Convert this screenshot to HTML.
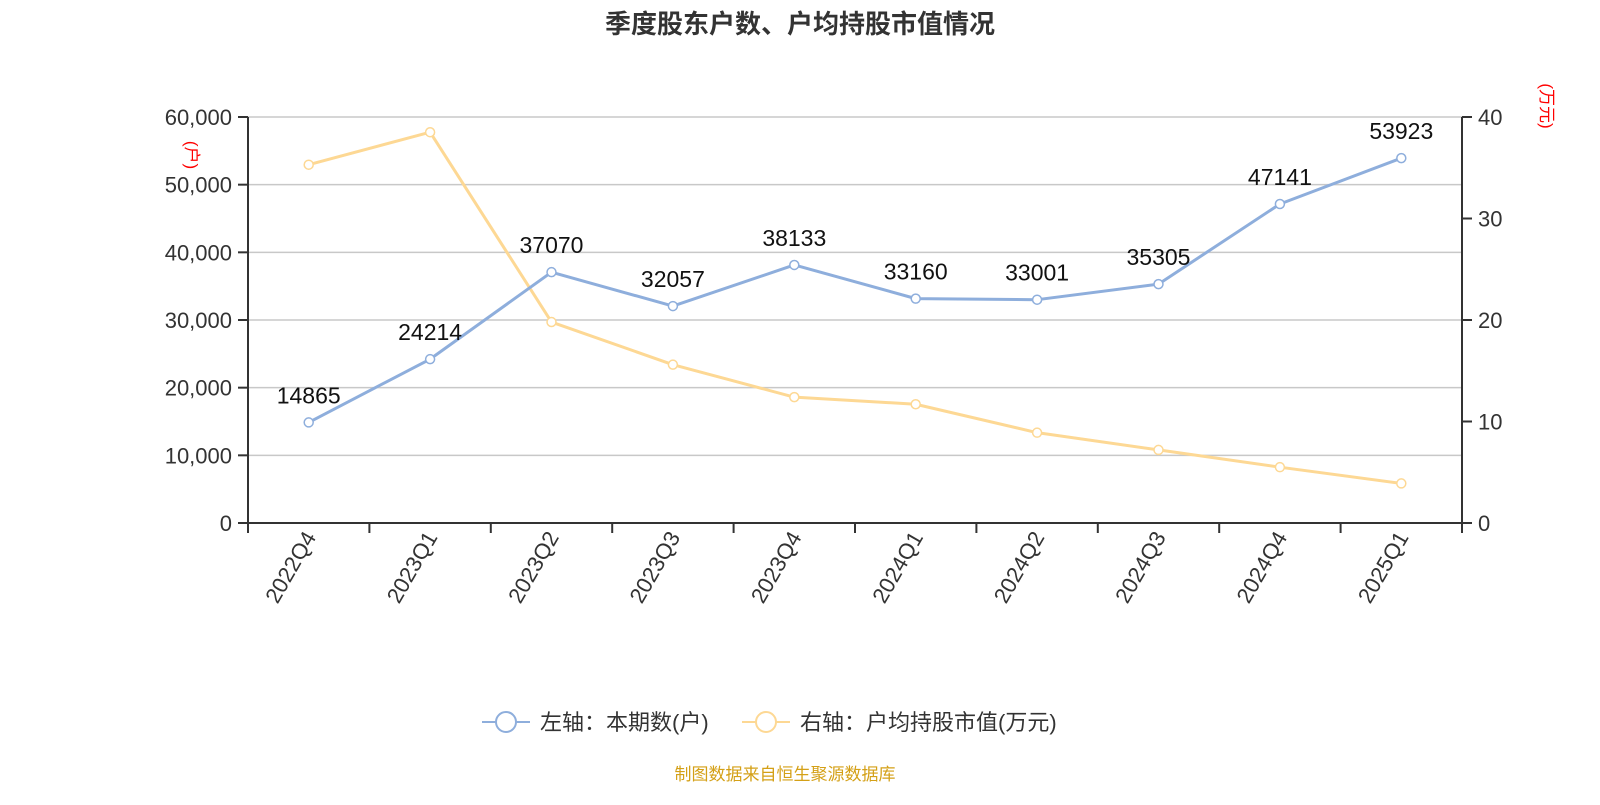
<!DOCTYPE html>
<html><head><meta charset="utf-8"><style>
body{margin:0;background:#fff;width:1600px;height:800px;overflow:hidden;font-family:"Liberation Sans","Noto Sans CJK SC",sans-serif}
</style></head><body>
<svg id="chart" width="1600" height="800" xmlns="http://www.w3.org/2000/svg" font-family="Liberation Sans, Noto Sans CJK SC, sans-serif">
<text x="800" y="33" text-anchor="middle" font-size="26" font-weight="bold" fill="#333">季度股东户数、户均持股市值情况</text>
<text transform="translate(186,155) rotate(90)" text-anchor="middle" font-size="17" fill="#ff0000">(户)</text>
<text transform="translate(1541,106) rotate(90)" text-anchor="middle" font-size="17" fill="#ff0000">(万元)</text>
<g id="grid"></g><g id="axes"></g><g id="series"></g>
<g>
<g>
<line x1="482" y1="722" x2="530" y2="722" stroke="#8eaedc" stroke-width="2"/>
<circle cx="506" cy="722" r="10" fill="#fff" stroke="#8eaedc" stroke-width="2"/>
<text x="540" y="730" font-size="22" fill="#333">左轴：本期数(户)</text>
</g>
<g>
<line x1="742" y1="722" x2="790" y2="722" stroke="#fdd894" stroke-width="2"/>
<circle cx="766" cy="722" r="10" fill="#fff" stroke="#fdd894" stroke-width="2"/>
<text x="800" y="730" font-size="22" fill="#333">右轴：户均持股市值(万元)</text>
</g>
</g>
<text x="785" y="780" text-anchor="middle" font-size="17" fill="#d4a017">制图数据来自恒生聚源数据库</text>
</svg>
<script>
const categories=["2022Q4","2023Q1","2023Q2","2023Q3","2023Q4","2024Q1","2024Q2","2024Q3","2024Q4","2025Q1"];
const holders=[14865,24214,37070,32057,38133,33160,33001,35305,47141,53923];
const avgValue=[35.3,38.5,19.8,15.6,12.4,11.7,8.9,7.2,5.5,3.9];
const leftTicks=[0,10000,20000,30000,40000,50000,60000];
const rightTicks=[0,10,20,30,40];
const NS="http://www.w3.org/2000/svg";
const L=248,R=1462,T=117,B=523;
const bw=(R-L)/categories.length;
const x=i=>L+bw*(i+0.5);
const yL=v=>B-(v/60000)*(B-T);
const yR=v=>B-(v/40)*(B-T);
function mk(tag,attrs,parent,text){const e=document.createElementNS(NS,tag);for(const k in attrs)e.setAttribute(k,attrs[k]);if(text!==undefined)e.textContent=text;parent.appendChild(e);return e;}
const grid=document.getElementById('grid'),axes=document.getElementById('axes'),series=document.getElementById('series');
leftTicks.forEach(v=>{
  if(v>0){const g=mk('line',{x1:L,x2:R,y1:yL(v),y2:yL(v),stroke:'#c8c8c8','stroke-width':1.5},grid);
  
  }
  const tk=mk('line',{x1:L-10,x2:L,y1:yL(v),y2:yL(v),stroke:'#333','stroke-width':2},axes);
  
  
  const t=mk('text',{x:L-16,y:yL(v)+8,'text-anchor':'end','font-size':22,fill:'#333'},axes,v.toLocaleString('en-US'));
  
  
});
rightTicks.forEach(v=>{
  const tk=mk('line',{x1:R,x2:R+10,y1:yR(v),y2:yR(v),stroke:'#333','stroke-width':2},axes);
  
  
  const t=mk('text',{x:R+16,y:yR(v)+8,'font-size':22,fill:'#333'},axes,String(v));
  
  
});
const la=mk('line',{x1:L,x2:L,y1:T,y2:B,stroke:'#333','stroke-width':2},axes);


const ra=mk('line',{x1:R,x2:R,y1:T,y2:B,stroke:'#333','stroke-width':2},axes);


const xa=mk('line',{x1:L,x2:R,y1:B,y2:B,stroke:'#333','stroke-width':2},axes);


for(let i=0;i<=categories.length;i++){
  const tk=mk('line',{x1:L+bw*i,x2:L+bw*i,y1:B,y2:B+10,stroke:'#333','stroke-width':2},axes);
  
  
}
categories.forEach((c,i)=>{
  const t=mk('text',{transform:`translate(${x(i)+8},${B+14}) rotate(-60)`,'text-anchor':'end','font-size':22,fill:'#333'},axes,c);
  
  
});
function line(vals,yf,color,name){
  const p=mk('polyline',{points:vals.map((v,i)=>x(i)+','+yf(v)).join(' '),fill:'none',stroke:color,'stroke-width':3,'stroke-linejoin':'round'},series);
  
  
  vals.forEach((v,i)=>{
    const c=mk('circle',{cx:x(i),cy:yf(v),r:4.5,fill:'#fff',stroke:color,'stroke-width':1.5},series);
    
    
  });
}
line(avgValue,yR,'#fdd894','avg-value');
line(holders,yL,'#8eaedc','holders');
holders.forEach((v,i)=>{
  const t=mk('text',{x:x(i),y:yL(v)-19,'text-anchor':'middle','font-size':23,fill:'#111'},series,String(v));
  
  
});
</script>
</body></html>
